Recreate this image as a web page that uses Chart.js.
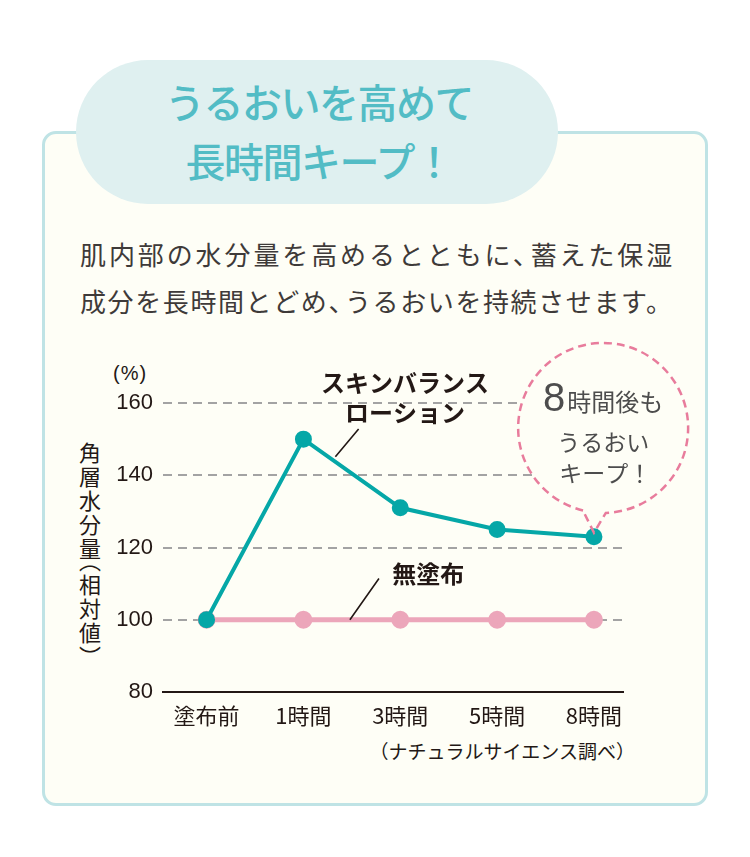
<!DOCTYPE html>
<html lang="ja">
<head>
<meta charset="utf-8">
<script src="https://cdn.jsdelivr.net/npm/chart.js@4.4.1/dist/chart.umd.min.js"></script>
<style>
  body { margin: 0; background: #fff; font-family: "Noto Sans CJK JP", sans-serif; }
  .page { position: relative; width: 750px; height: 857px; overflow: hidden; }
  .card { position: absolute; left: 42px; top: 131px; width: 660px; height: 669px; border: 3px solid #bfe3e5; border-radius: 14px; background: #fefef6; }
  .pill { position: absolute; left: 76px; top: 60px; width: 482px; height: 144px; border-radius: 72px; background: #dff0f0; }
  .title { position: absolute; left: 78px; top: 72px; width: 482px; text-align: center; color: #52bcc5; font-size: 40px; line-height: 59px; font-weight: 500; letter-spacing: -1.5px; }
  .lead { position: absolute; left: 80px; top: 230px; color: #3e3a39; font-size: 26px; line-height: 47px; white-space: nowrap; }
  .lead div:first-child { letter-spacing: 2.9px; }
  .lead div:last-child { letter-spacing: 1.6px; }
  .lead .p { margin-right: -11px; }
  .ytitle { position: absolute; left: 74px; top: 442px; writing-mode: vertical-rl; font-size: 22px; color: #231815; letter-spacing: 1.8px; font-feature-settings: "vhal"; }
  .unit { position: absolute; left: 113px; top: 362px; font-size: 20px; color: #231815; font-family: "Liberation Sans", sans-serif; letter-spacing: 1px; }
  .source { position: absolute; right: 115px; top: 737px; font-size: 19px; color: #231815; }
  .wrap { position: absolute; left: 40px; top: 330px; width: 680px; height: 440px; }
</style>
</head>
<body>
<div class="page">
  <div class="card"></div>
  <div class="pill"></div>
  <div class="title">うるおいを高めて<br>長時間キープ！</div>
  <div class="lead"><div>肌内部の水分量を高めるとともに<span class="p">、</span>蓄えた保湿</div><div>成分を長時間とどめ<span class="p">、</span>うるおいを持続させます。</div></div>
  <div class="ytitle">角層水分量（相対値）</div>
  <div class="unit">(%)</div>
  <div class="source">（ナチュラルサイエンス調べ）</div>
  <div class="wrap"><canvas id="chart"></canvas></div>
</div>
<script>
const labels = ['塗布前', '1時間', '3時間', '5時間', '8時間'];
const lotion = [100, 150, 131, 125, 123];
const untreated = [100, 100, 100, 100, 100];
const yMin = 80, yMax = 160, yStep = 20;

const teal = '#05a7a7';
const pink = '#eca6ba';
const ink = '#231815';

// callouts, leader lines and the speech bubble
const notes = {
  id: 'notes',
  afterDatasetsDraw(chart) {
    const { ctx, scales: { x, y } } = chart;
    const px = (a, b) => [x.getPixelForValue(a), y.getPixelForValue(b)];
    ctx.save();

    // leader lines
    ctx.strokeStyle = ink;
    ctx.lineWidth = 1.6;
    ctx.beginPath();
    ctx.moveTo(...px(1.33, 145.1));
    ctx.lineTo(...px(1.57, 152.8));
    ctx.moveTo(...px(1.48, 100));
    ctx.lineTo(...px(1.78, 111.4));
    ctx.stroke();

    ctx.fillStyle = ink;
    ctx.textAlign = 'center';
    ctx.textBaseline = 'middle';
    ctx.font = 'bold 24px "Noto Sans CJK JP"';
    ctx.fillText('スキンバランス', ...px(2.05, 165.5));
    ctx.fillText('ローション', ...px(2.05, 157.2));
    ctx.fillText('無塗布', ...px(2.29, 112.6));

    // bubble
    const tip = chart.getDatasetMeta(0).data[4];
    const [cx, cy] = px(4.095, 153.1);
    const r = 85;
    ctx.fillStyle = '#fefef6';
    ctx.beginPath();
    ctx.arc(cx, cy, r, 0, Math.PI * 2);
    ctx.fill();
    ctx.strokeStyle = '#e87c9c';
    ctx.lineWidth = 2.5;
    ctx.setLineDash([8, 5]);
    ctx.beginPath();
    ctx.arc(cx, cy, r, Math.PI * 0.576, Math.PI * 2.49);
    ctx.lineTo(tip.x, tip.y - 4);
    ctx.lineTo(cx - 20, cy + r - 2);
    ctx.stroke();
    ctx.setLineDash([]);

    ctx.fillStyle = '#4d4d4d';
    ctx.textAlign = 'left';
    const l1 = '時間後も';
    ctx.font = '400 24px "Noto Sans CJK JP"';
    const w1 = ctx.measureText(l1).width;
    ctx.font = '40px "Liberation Sans"';
    const w8 = ctx.measureText('8').width;
    const sx = cx - (w1 + w8 + 2) / 2;
    ctx.fillText('8', sx, cy - 28);
    ctx.font = '400 24px "Noto Sans CJK JP"';
    ctx.fillText(l1, sx + w8 + 2, cy - 26);
    ctx.textAlign = 'center';
    ctx.font = '400 23px "Noto Sans CJK JP"';
    ctx.fillText('うるおい', cx, cy + 14);
    ctx.fillText('キープ！', cx + 2, cy + 45);
    ctx.restore();
  }
};

new Chart(document.getElementById('chart'), {
  type: 'line',
  data: {
    datasets: [
      {
        label: 'スキンバランス ローション',
        data: lotion.map((v, i) => ({ x: i, y: v })),
        borderColor: teal,
        backgroundColor: teal,
        borderWidth: 4,
        pointRadius: 6.5,
        pointHoverRadius: 6.5,
        tension: 0
      },
      {
        label: '無塗布',
        data: untreated.map((v, i) => ({ x: i, y: v })),
        borderColor: pink,
        backgroundColor: pink,
        borderWidth: 5,
        pointRadius: 6.5,
        pointHoverRadius: 6.5,
        tension: 0
      }
    ]
  },
  options: {
    responsive: true,
    maintainAspectRatio: false,
    animation: false,
    layout: { padding: { top: 73, right: 97, left: 0, bottom: 0 } },
    plugins: { legend: { display: false }, tooltip: { enabled: false } },
    scales: {
      x: {
        type: 'linear',
        min: -0.45,
        max: 4.3,
        afterBuildTicks: s => { s.ticks = labels.map((_, i) => ({ value: i })); },
        afterFit: s => { s.height = 78; },
        grid: { display: false },
        border: { display: true, color: ink, width: 2 },
        ticks: {
          callback: v => labels[v],
          color: ink,
          padding: 2,
          maxRotation: 0,
          font: { family: '"Noto Sans CJK JP"', size: 22 }
        }
      },
      y: {
        min: yMin,
        max: yMax,
        afterFit: s => { s.width = 123; },
        border: { display: false, dash: [9, 6] },
        grid: {
          drawTicks: false,
          lineWidth: 2,
          color: c => c.tick && c.tick.value === yMin ? 'rgba(0,0,0,0)' : '#a3a3a3'
        },
        ticks: {
          stepSize: yStep,
          color: ink,
          padding: 10,
          font: { family: '"Liberation Sans"', size: 22 }
        }
      }
    }
  },
  plugins: [notes]
});
</script>
</body>
</html>
